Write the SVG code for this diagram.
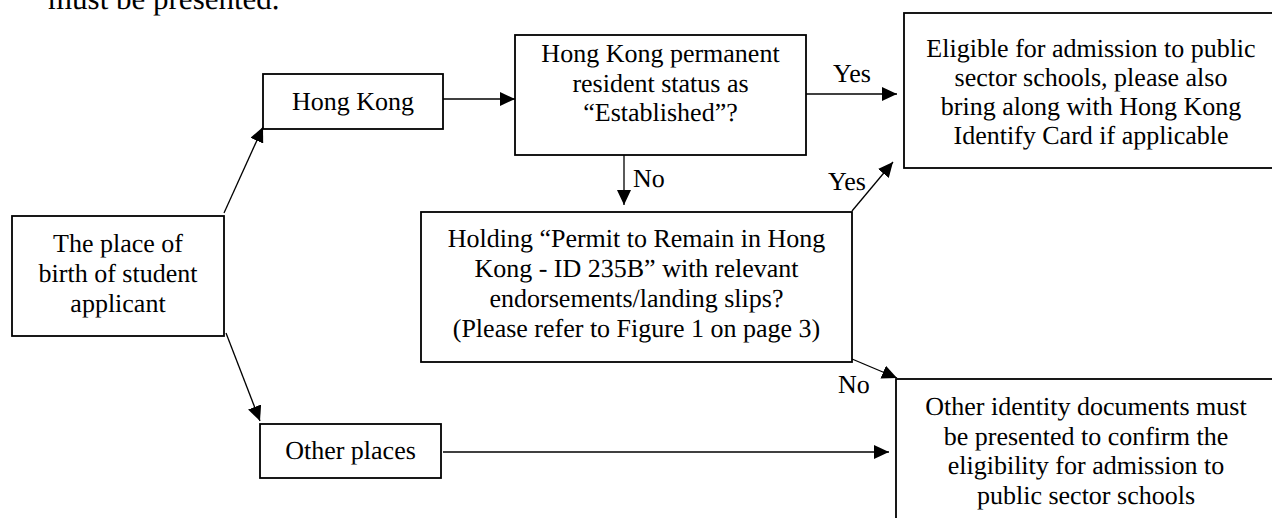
<svg xmlns="http://www.w3.org/2000/svg" width="1272" height="518" viewBox="0 0 1272 518" font-family="Liberation Serif, Times New Roman, serif" font-size="26" text-rendering="geometricPrecision">
<style>
text{font-family:"Liberation Serif","Times New Roman",serif;}
.c{text-anchor:middle;}
.box{fill:#fff;stroke:#000;stroke-width:1.8;}
.ln{stroke:#000;stroke-width:1.3;fill:none;marker-end:url(#ah);}
</style>
<defs>
<marker id="ah" markerUnits="userSpaceOnUse" markerWidth="16" markerHeight="14" refX="15" refY="7" orient="auto" viewBox="0 0 16 14">
<path d="M0,0 L15,7 L0,14 z" fill="#000"/>
</marker>
</defs>
<rect width="1272" height="518" fill="#fff"/>
<text x="48" y="9" font-size="31">must be presented.</text>

<g id="connectors">
<line class="ln" x1="224" y1="213" x2="263" y2="127"/>
<line class="ln" x1="226" y1="333" x2="260" y2="421"/>
<line class="ln" x1="441" y1="99" x2="515" y2="99"/>
<line class="ln" x1="806" y1="94" x2="897" y2="94"/>
<line class="ln" x1="624" y1="155" x2="624" y2="205"/>
<line class="ln" x1="852" y1="211" x2="893" y2="162"/>
<line class="ln" x1="852" y1="359" x2="897" y2="378"/>
<line class="ln" x1="443" y1="452" x2="889" y2="452"/>
<text x="833" y="82">Yes</text>
<text x="633" y="187">No</text>
<text x="828" y="190">Yes</text>
<text x="838" y="393">No</text>
</g>

<g id="birth">
<rect class="box" x="12" y="216" width="212" height="120"/>
<text class="c" x="118" y="252">The place of</text>
<text class="c" x="118" y="282">birth of student</text>
<text class="c" x="118" y="312">applicant</text>
</g>

<g id="hongkong">
<rect class="box" x="263" y="74" width="180" height="55"/>
<text class="c" x="353" y="110">Hong Kong</text>
</g>

<g id="otherplaces">
<rect class="box" x="260" y="424" width="181" height="54"/>
<text class="c" x="350.5" y="459">Other places</text>
</g>

<g id="permanent">
<rect class="box" x="515" y="35" width="291" height="120"/>
<text class="c" x="660.5" y="62">Hong Kong permanent</text>
<text class="c" x="660.5" y="91.5">resident status as</text>
<text class="c" x="660.5" y="121">“Established”?</text>
</g>

<g id="holding">
<rect class="box" x="421" y="212" width="431" height="150"/>
<text class="c" x="636.5" y="247">Holding “Permit to Remain in Hong</text>
<text class="c" x="636.5" y="277">Kong - ID 235B” with relevant</text>
<text class="c" x="636.5" y="307">endorsements/landing slips?</text>
<text class="c" x="636.5" y="337">(Please refer to Figure 1 on page 3)</text>
</g>

<g id="eligible">
<rect class="box" x="904" y="13" width="380" height="155"/>
<text class="c" x="1091" y="57">Eligible for admission to public</text>
<text class="c" x="1091" y="86">sector schools, please also</text>
<text class="c" x="1091" y="115">bring along with Hong Kong</text>
<text class="c" x="1091" y="144">Identify Card if applicable</text>
</g>

<g id="otherdocs">
<rect class="box" x="896" y="379" width="400" height="200"/>
<text class="c" x="1086" y="415">Other identity documents must</text>
<text class="c" x="1086" y="444.5">be presented to confirm the</text>
<text class="c" x="1086" y="474">eligibility for admission to</text>
<text class="c" x="1086" y="503.5">public sector schools</text>
</g>
</svg>
